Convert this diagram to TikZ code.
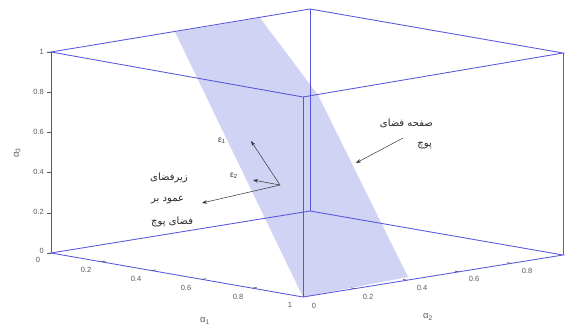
\documentclass[tikz,border=0pt]{standalone}
\usepackage{fontspec}
\setmainfont{Liberation Sans}
\newfontfamily\fa[Script=Arabic]{DejaVu Sans}
\TeXXeTstate=1
\usetikzlibrary{arrows.meta,calc}
\definecolor{boxc}{RGB}{85,85,222}
\definecolor{planec}{RGB}{208,211,244}
\definecolor{tickc}{RGB}{90,90,90}
\begin{document}
\begin{tikzpicture}[x=1pt,y=-1pt,
  edge/.style={draw=boxc, line width=0.85pt},
  ticklab/.style={font=\fontsize{7.5}{8}\selectfont, text=tickc, inner sep=0pt},
  axlab/.style={font=\fontsize{9.5}{10}\selectfont, text=tickc, inner sep=0pt},
  fatext/.style={font=\fa\fontsize{10}{12}\selectfont, text=black!85, inner sep=0pt},
  elab/.style={font=\fontsize{8.5}{9}\selectfont, text=black!80, inner sep=0pt},
  arr/.style={-{Stealth[length=5pt,width=3.5pt]}, line width=0.5pt, draw=black!80}]
\useasboundingbox (0,0) rectangle (573,329);
% null-space plane
\fill[planec] (175,32) -- (260,18) -- (318,95) -- (408,277) -- (303,297) -- cycle;
% box corners
\coordinate (Lt) at (51,52);  \coordinate (Bt) at (310,9);
\coordinate (Rt) at (563,53); \coordinate (Ft) at (303,97);
\coordinate (Lb) at (51,253); \coordinate (Bb) at (310,211);
\coordinate (Rb) at (563,255); \coordinate (Fb) at (303,297);
\draw[edge] (Lt)--(Bt)--(Rt)--(Ft)--cycle;
\draw[edge] (Lb)--(Bb)--(Rb)--(Fb)--cycle;
\draw[edge] (Bt)--(Bb) (Ft)--(Fb) (Rt)--(Rb);
\draw[tickc, line width=0.6pt] (Lt)--(Lb);
% alpha3 ticks
\foreach \t in {0,0.2,0.4,0.6,0.8,1}{
  \draw[tickc, line width=0.5pt] ($(Lb)!\t!(Lt)$) -- ++(-4,0);
}
% alpha1 ticks
\foreach \t in {0.2,0.4,0.6,0.8}{
  \draw[tickc!70!boxc, line width=0.8pt] ($(Lb)!\t!(Fb)$) -- ++(4,-0.7);
}
% alpha2 ticks
\foreach \t in {0.2,0.4,0.6,0.8}{
  \draw[tickc!70!boxc, line width=0.8pt] ($(Fb)!\t!(Rb)$) -- ++(-4,-0.7);
}
% alpha3 labels
\node[ticklab, anchor=east] (z1) at (44,52) {1};
\node[ticklab, anchor=east] (z08) at (44,92) {0.8};
\node[ticklab, anchor=east] (z06) at (44,132) {0.6};
\node[ticklab, anchor=east] (z04) at (44,172) {0.4};
\node[ticklab, anchor=east] (z02) at (44,212) {0.2};
\node[ticklab, anchor=east] (z0) at (44,251) {0};
\node[ticklab] (x0) at (38,260) {0};
% alpha1 labels
\node[ticklab] (x02) at (86,270) {0.2};
\node[ticklab] (x04) at (136,279) {0.4};
\node[ticklab] (x06) at (186,288) {0.6};
\node[ticklab] (x08) at (238,297) {0.8};
\node[ticklab] (x1) at (290,305) {1};
% alpha2 labels
\node[ticklab] (y0) at (314,306) {0};
\node[ticklab] (y02) at (368,297) {0.2};
\node[ticklab] (y04) at (422,288) {0.4};
\node[ticklab] (y06) at (474,279) {0.6};
\node[ticklab] (y08) at (527,271) {0.8};
% axis names
\node[axlab] (a1) at (205,321) {α\textsubscript{1}};
\node[axlab] (a2) at (428,317) {α\textsubscript{2}};
\node[axlab, rotate=90] (a3) at (17,153) {α\textsubscript{3}};
% right text
\node[fatext, anchor=east] (t1) at (433,123) {\beginR صفحه فضای\endR};
\node[fatext, anchor=east] (t2) at (432,146) {\beginR پوچ\endR};
\coordinate (p1s) at (403,138); \coordinate (p1e) at (356,163);
\draw[arr] (p1s) -- (p1e);
% left text
\node[fatext, anchor=west] (l1) at (150,178) {\beginR زیرفضای\endR};
\node[fatext, anchor=west] (l2) at (151,200) {\beginR عمود بر\endR};
\node[fatext, anchor=west] (l3) at (151,222) {\beginR فضای پوچ\endR};
% vectors
\coordinate (o) at (280,185);
\coordinate (e1t) at (251,141);
\coordinate (e2t) at (253,180);
\coordinate (nt) at (202,203);
\draw[arr] (o) -- (e1t);
\draw[arr] (o) -- (e2t);
\draw[arr] (o) -- (nt);
\node[elab] (e1) at (222,141) {ε\textsubscript{1}};
\node[elab] (e2) at (234,176) {ε\textsubscript{2}};
\end{tikzpicture}
\end{document}
